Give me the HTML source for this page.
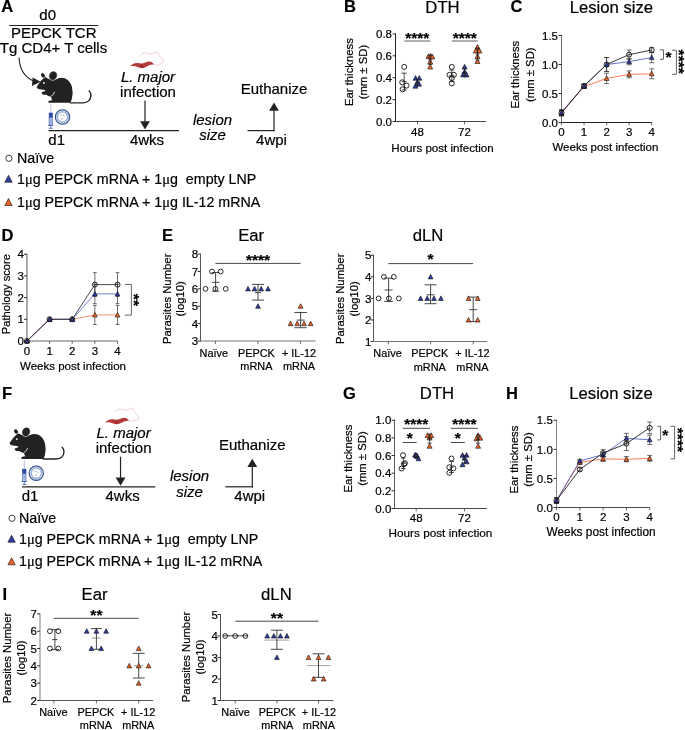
<!DOCTYPE html>
<html lang="en">
<head>
<meta charset="utf-8">
<title>Figure</title>
<style>
html,body{margin:0;padding:0;background:#fff;}
body{width:685px;height:730px;overflow:hidden;}
svg{display:block;font-family:"Liberation Sans",Arial,Helvetica,sans-serif;}
svg text{stroke:#000;stroke-width:0.2px;}
</style>
</head>
<body>
<svg width="685" height="730" viewBox="0 0 685 730">
<rect x="0" y="0" width="685" height="730" fill="#fff"/>
<text x="1.2" y="12" font-size="16.5" font-weight="bold" fill="#000">A</text>
<text x="47.7" y="20" font-size="15" text-anchor="middle" fill="#000">d0</text>
<line x1="9.2" y1="25.5" x2="98.2" y2="25.5" stroke="#222" stroke-width="1"/>
<text x="53.7" y="38" font-size="15" text-anchor="middle" fill="#000">PEPCK TCR</text>
<text x="53.5" y="53.3" font-size="15" text-anchor="middle" fill="#000">Tg CD4+ T cells</text>
<path d="M19 57.5 C19.5 68 24 77 34 81.3" stroke="#222" fill="none" stroke-width="1.1"/>
<path d="M40.6 81.8 L32 85.9 L32.6 77.4 Z" stroke="none" fill="#222" stroke-width="1"/>
<g transform="translate(28 66) scale(0.09927)">
<path d="M88 208 L130 148 L172 112 L210 130 Q260 150 290 130 Q330 112 370 124 Q420 140 442 210 Q458 270 442 330 Q436 356 424 370 L210 370 Q198 366 206 354 Q220 346 246 344 Q232 330 234 312 Q200 306 184 290 Q160 292 146 284 Q130 274 140 264 Q158 256 176 252 Q176 238 140 236 Q110 236 96 226 Q84 218 88 208 Z" stroke="none" fill="#222" stroke-width="1"/>
<path d="M130 90 Q134 66 152 72 Q170 84 174 102 L152 120 Q134 106 130 90 Z" stroke="none" fill="#222" stroke-width="1"/>
<ellipse cx="252" cy="98" rx="41" ry="48" transform="rotate(24 252 99)" fill="#222" stroke="#fff" stroke-width="5"/>
<path d="M268 260 Q262 292 228 307" stroke="#fff" fill="none" stroke-width="8"/>
<circle cx="160" cy="170" r="9" fill="#fff"/>
<path d="M425 371 L555 371 Q628 368 634 300 Q636 270 616 252" stroke="#222" fill="none" stroke-width="14" stroke-linecap="round"/>
</g>
<line x1="50.8" y1="104" x2="50.8" y2="113" stroke="#8f9bd0" stroke-width="0.6"/>
<rect x="49.1" y="113" width="3.4" height="12.3" fill="#b7cdea" stroke="#2f4a9e" stroke-width="0.6"/>
<rect x="49.1" y="113" width="3.4" height="4.6" fill="#2a4aa4"/>
<line x1="50.2" y1="119" x2="51.2" y2="119" stroke="#2f4a9e" stroke-width="0.6"/>
<line x1="50.2" y1="121" x2="51.2" y2="121" stroke="#2f4a9e" stroke-width="0.6"/>
<line x1="50.2" y1="123" x2="51.2" y2="123" stroke="#2f4a9e" stroke-width="0.6"/>
<line x1="48" y1="125.3" x2="53.6" y2="125.3" stroke="#3a55a8" stroke-width="0.7"/>
<line x1="50.8" y1="125.3" x2="50.8" y2="128.3" stroke="#3a55a8" stroke-width="0.8"/>
<line x1="48.9" y1="128.3" x2="52.7" y2="128.3" stroke="#3a55a8" stroke-width="0.8"/>
<circle cx="62.5" cy="117" r="7.2" fill="#c9d6ea" stroke="#2f4c86" stroke-width="1.1"/>
<circle cx="62.5" cy="117" r="5.7" fill="#9db2d3" stroke="none"/>
<circle cx="62.5" cy="117" r="4.4" fill="#fff" stroke="none"/>
<path d="M60.3 115.4 q1.2 -0.8 2 0.2 M63.1 115.2 q1 0.2 1.4 1.4 M60.9 119 q1.4 0.6 2.6 -0.8" stroke="#7d8aa5" fill="none" stroke-width="0.6"/>
<line x1="48.6" y1="130.6" x2="179" y2="130.6" stroke="#222" stroke-width="1.2"/>
<text x="48.3" y="145.2" font-size="15" fill="#000">d1</text>
<text x="147" y="145.2" font-size="15" text-anchor="middle" fill="#000">4wks</text>
<g transform="translate(120 40) scale(0.08759)">
<path d="M392 282 C410 292 430 290 450 276 C470 268 492 276 500 248 C502 224 478 208 460 195 C446 180 444 150 428 140 C404 134 384 152 366 158 C340 166 318 148 290 148 C262 146 246 160 232 178" stroke="#c56b69" fill="none" stroke-width="3.6"/>
<path d="M115 300 C138 270 182 254 230 268 C268 276 300 244 340 245 C366 248 380 266 392 282 C360 274 322 292 290 310 C262 326 230 324 200 309 C170 294 140 296 115 300 Z" stroke="none" fill="#b23a38" stroke-width="1"/>
<circle cx="245" cy="293" r="12" fill="#8c1f22"/>
</g>
<text x="148" y="81.5" font-size="15" text-anchor="middle" font-style="italic" fill="#000">L. major</text>
<text x="148" y="96.8" font-size="15" text-anchor="middle" fill="#000">infection</text>
<line x1="145" y1="100.5" x2="145" y2="122.2" stroke="#222" stroke-width="1.2"/>
<path d="M145 129.5L140.1 121.2L149.9 121.2Z" stroke="none" fill="#222" stroke-width="1"/>
<text x="212.5" y="125" font-size="15" text-anchor="middle" font-style="italic" fill="#000">lesion</text>
<text x="212.5" y="140.3" font-size="15" text-anchor="middle" font-style="italic" fill="#000">size</text>
<line x1="247.5" y1="130.6" x2="274.6" y2="130.6" stroke="#222" stroke-width="1.2"/>
<line x1="274" y1="131.2" x2="274" y2="109.8" stroke="#222" stroke-width="1.2"/>
<path d="M274 102.5L269.1 110.8L278.9 110.8Z" stroke="none" fill="#222" stroke-width="1"/>
<text x="274" y="94" font-size="15" text-anchor="middle" fill="#000">Euthanize</text>
<text x="271.5" y="144.6" font-size="15" text-anchor="middle" fill="#000">4wpi</text>
<circle cx="8.9" cy="158.3" r="3.1" stroke="#111" fill="none" stroke-width="0.8"/>
<text x="17" y="162.9" font-size="14.25" fill="#000">Naïve</text>
<path d="M8.5 175.23L12.2 182.26L4.8 182.26Z" fill="#2e3d9e" stroke="#111" stroke-width="0.6" stroke-linejoin="miter"/>
<text x="17" y="183.7" font-size="14.25" fill="#000" xml:space="preserve">1<tspan font-family="'Liberation Serif','DejaVu Serif',serif" font-size="14.5">μ</tspan>g PEPCK mRNA + 1<tspan font-family="'Liberation Serif','DejaVu Serif',serif" font-size="14.5">μ</tspan>g  empty LNP</text>
<path d="M8.5 198.43L12.2 205.46L4.8 205.46Z" fill="#e8622a" stroke="#111" stroke-width="0.6" stroke-linejoin="miter"/>
<text x="17" y="206.9" font-size="14.25" fill="#000">1<tspan font-family="'Liberation Serif','DejaVu Serif',serif" font-size="14.5">μ</tspan>g PEPCK mRNA + 1<tspan font-family="'Liberation Serif','DejaVu Serif',serif" font-size="14.5">μ</tspan>g IL-12 mRNA</text>
<text x="344" y="12.3" font-size="16.5" font-weight="bold" fill="#000">B</text>
<text x="442.5" y="13" font-size="16.7" text-anchor="middle" fill="#000">DTH</text>
<line x1="395.5" y1="33.5" x2="395.5" y2="122" stroke="#222" stroke-width="1"/>
<line x1="392.6" y1="121.5" x2="395.5" y2="121.5" stroke="#222" stroke-width="0.95"/>
<text x="392" y="125.64" font-size="11.5" text-anchor="end" fill="#000">0.0</text>
<line x1="392.6" y1="99.6" x2="395.5" y2="99.6" stroke="#222" stroke-width="0.95"/>
<text x="392" y="103.74" font-size="11.5" text-anchor="end" fill="#000">0.2</text>
<line x1="392.6" y1="77.7" x2="395.5" y2="77.7" stroke="#222" stroke-width="0.95"/>
<text x="392" y="81.84" font-size="11.5" text-anchor="end" fill="#000">0.4</text>
<line x1="392.6" y1="55.8" x2="395.5" y2="55.8" stroke="#222" stroke-width="0.95"/>
<text x="392" y="59.94" font-size="11.5" text-anchor="end" fill="#000">0.6</text>
<line x1="392.6" y1="33.9" x2="395.5" y2="33.9" stroke="#222" stroke-width="0.95"/>
<text x="392" y="38.04" font-size="11.5" text-anchor="end" fill="#000">0.8</text>
<line x1="395" y1="121.5" x2="486" y2="121.5" stroke="#333" stroke-width="0.9"/>
<line x1="417.5" y1="121.5" x2="417.5" y2="124.4" stroke="#444" stroke-width="0.8"/>
<text x="417.5" y="135.7" font-size="11.5" text-anchor="middle" fill="#000">48</text>
<line x1="464.5" y1="121.5" x2="464.5" y2="124.4" stroke="#444" stroke-width="0.8"/>
<text x="464.5" y="135.7" font-size="11.5" text-anchor="middle" fill="#000">72</text>
<text x="442.5" y="151.6" font-size="11.6" text-anchor="middle" fill="#000">Hours post infection</text>
<text x="352.7" y="72.1" font-size="11.3" text-anchor="middle" transform="rotate(-90 352.7 72.1)" fill="#000">Ear thickness</text>
<text x="366.8" y="72.1" font-size="11.3" text-anchor="middle" transform="rotate(-90 366.8 72.1)" fill="#000">(mm ± SD)</text>
<line x1="404.2" y1="41" x2="430.4" y2="41" stroke="#959595" stroke-width="1.5"/>
<text x="417.3" y="43.2" font-size="15.5" text-anchor="middle" font-weight="bold" fill="#000">****</text>
<line x1="451.8" y1="41" x2="477.8" y2="41" stroke="#959595" stroke-width="1.5"/>
<text x="464.8" y="43.2" font-size="15.5" text-anchor="middle" font-weight="bold" fill="#000">****</text>
<circle cx="404.2" cy="66.9" r="2.5" stroke="#111" fill="none" stroke-width="0.9"/>
<circle cx="402.2" cy="82.3" r="2.5" stroke="#111" fill="none" stroke-width="0.9"/>
<circle cx="406.6" cy="85.6" r="2.5" stroke="#111" fill="none" stroke-width="0.9"/>
<circle cx="402.6" cy="89.3" r="2.5" stroke="#111" fill="none" stroke-width="0.9"/>
<line x1="404.2" y1="73.1" x2="404.2" y2="90" stroke="#222" stroke-width="0.8"/>
<line x1="401.7" y1="73.1" x2="406.7" y2="73.1" stroke="#222" stroke-width="0.8"/>
<line x1="401.7" y1="90" x2="406.7" y2="90" stroke="#222" stroke-width="0.8"/>
<line x1="401.7" y1="81.6" x2="406.7" y2="81.6" stroke="#222" stroke-width="0.8"/>
<path d="M415.6 75.49L418.1 80.24L413.1 80.24Z" fill="#2e3d9e" stroke="#111" stroke-width="0.6" stroke-linejoin="miter"/>
<path d="M419.3 75.49L421.8 80.24L416.8 80.24Z" fill="#2e3d9e" stroke="#111" stroke-width="0.6" stroke-linejoin="miter"/>
<path d="M417.3 79.69L419.8 84.44L414.8 84.44Z" fill="#2e3d9e" stroke="#111" stroke-width="0.6" stroke-linejoin="miter"/>
<path d="M415.4 83.39L417.9 88.14L412.9 88.14Z" fill="#2e3d9e" stroke="#111" stroke-width="0.6" stroke-linejoin="miter"/>
<path d="M419 81.39L421.5 86.14L416.5 86.14Z" fill="#2e3d9e" stroke="#111" stroke-width="0.6" stroke-linejoin="miter"/>
<line x1="417.4" y1="79.5" x2="417.4" y2="85.5" stroke="#222" stroke-width="0.8"/>
<line x1="415.4" y1="79.5" x2="419.4" y2="79.5" stroke="#222" stroke-width="0.8"/>
<line x1="415.4" y1="85.5" x2="419.4" y2="85.5" stroke="#222" stroke-width="0.8"/>
<line x1="415.4" y1="82.5" x2="419.4" y2="82.5" stroke="#222" stroke-width="0.8"/>
<path d="M428.5 53.79L431 58.54L426 58.54Z" fill="#e8622a" stroke="#111" stroke-width="0.6" stroke-linejoin="miter"/>
<path d="M430.5 53.39L433 58.14L428 58.14Z" fill="#e8622a" stroke="#111" stroke-width="0.6" stroke-linejoin="miter"/>
<path d="M432.4 54.19L434.9 58.94L429.9 58.94Z" fill="#e8622a" stroke="#111" stroke-width="0.6" stroke-linejoin="miter"/>
<path d="M430.2 59.09L432.7 63.84L427.7 63.84Z" fill="#e8622a" stroke="#111" stroke-width="0.6" stroke-linejoin="miter"/>
<path d="M430.2 64.29L432.7 69.04L427.7 69.04Z" fill="#e8622a" stroke="#111" stroke-width="0.6" stroke-linejoin="miter"/>
<line x1="430.3" y1="55" x2="430.3" y2="64.5" stroke="#222" stroke-width="0.8"/>
<line x1="428.3" y1="55" x2="432.3" y2="55" stroke="#222" stroke-width="0.8"/>
<line x1="428.3" y1="64.5" x2="432.3" y2="64.5" stroke="#222" stroke-width="0.8"/>
<line x1="428.3" y1="59.7" x2="432.3" y2="59.7" stroke="#222" stroke-width="0.8"/>
<circle cx="451.8" cy="66.9" r="2.5" stroke="#111" fill="none" stroke-width="0.9"/>
<circle cx="449.5" cy="74.8" r="2.5" stroke="#111" fill="none" stroke-width="0.9"/>
<circle cx="453.9" cy="74.8" r="2.5" stroke="#111" fill="none" stroke-width="0.9"/>
<circle cx="451.8" cy="78.1" r="2.5" stroke="#111" fill="none" stroke-width="0.9"/>
<circle cx="451.8" cy="83.4" r="2.5" stroke="#111" fill="none" stroke-width="0.9"/>
<line x1="451.8" y1="70" x2="451.8" y2="81.5" stroke="#222" stroke-width="0.8"/>
<line x1="449.3" y1="70" x2="454.3" y2="70" stroke="#222" stroke-width="0.8"/>
<line x1="449.3" y1="81.5" x2="454.3" y2="81.5" stroke="#222" stroke-width="0.8"/>
<line x1="449.3" y1="75.7" x2="454.3" y2="75.7" stroke="#222" stroke-width="0.8"/>
<path d="M464.6 64.29L467.1 69.04L462.1 69.04Z" fill="#2e3d9e" stroke="#111" stroke-width="0.6" stroke-linejoin="miter"/>
<path d="M464.6 68.89L467.1 73.64L462.1 73.64Z" fill="#2e3d9e" stroke="#111" stroke-width="0.6" stroke-linejoin="miter"/>
<path d="M463.1 72.19L465.6 76.94L460.6 76.94Z" fill="#2e3d9e" stroke="#111" stroke-width="0.6" stroke-linejoin="miter"/>
<path d="M466.6 72.19L469.1 76.94L464.1 76.94Z" fill="#2e3d9e" stroke="#111" stroke-width="0.6" stroke-linejoin="miter"/>
<line x1="464.6" y1="68.5" x2="464.6" y2="76" stroke="#222" stroke-width="0.8"/>
<line x1="462.6" y1="68.5" x2="466.6" y2="68.5" stroke="#222" stroke-width="0.8"/>
<line x1="462.6" y1="76" x2="466.6" y2="76" stroke="#222" stroke-width="0.8"/>
<line x1="462.6" y1="72.3" x2="466.6" y2="72.3" stroke="#222" stroke-width="0.8"/>
<path d="M477.5 44.59L480 49.34L475 49.34Z" fill="#e8622a" stroke="#111" stroke-width="0.6" stroke-linejoin="miter"/>
<path d="M475.8 48.19L478.3 52.94L473.3 52.94Z" fill="#e8622a" stroke="#111" stroke-width="0.6" stroke-linejoin="miter"/>
<path d="M479.4 48.19L481.9 52.94L476.9 52.94Z" fill="#e8622a" stroke="#111" stroke-width="0.6" stroke-linejoin="miter"/>
<path d="M477.5 53.79L480 58.54L475 58.54Z" fill="#e8622a" stroke="#111" stroke-width="0.6" stroke-linejoin="miter"/>
<path d="M477.5 58.79L480 63.54L475 63.54Z" fill="#e8622a" stroke="#111" stroke-width="0.6" stroke-linejoin="miter"/>
<line x1="477.5" y1="48" x2="477.5" y2="60" stroke="#222" stroke-width="0.8"/>
<line x1="475.5" y1="48" x2="479.5" y2="48" stroke="#222" stroke-width="0.8"/>
<line x1="475.5" y1="60" x2="479.5" y2="60" stroke="#222" stroke-width="0.8"/>
<line x1="475.5" y1="54" x2="479.5" y2="54" stroke="#222" stroke-width="0.8"/>
<text x="510.6" y="12.3" font-size="16.5" font-weight="bold" fill="#000">C</text>
<text x="611.4" y="13" font-size="16.7" text-anchor="middle" fill="#000">Lesion size</text>
<line x1="561.5" y1="34.9" x2="561.5" y2="123" stroke="#444" stroke-width="0.8"/>
<line x1="558.6" y1="122.5" x2="561.5" y2="122.5" stroke="#222" stroke-width="0.95"/>
<text x="558" y="126.64" font-size="11.5" text-anchor="end" fill="#000">0.0</text>
<line x1="558.6" y1="93.5" x2="561.5" y2="93.5" stroke="#222" stroke-width="0.95"/>
<text x="558" y="97.64" font-size="11.5" text-anchor="end" fill="#000">0.5</text>
<line x1="558.6" y1="64.5" x2="561.5" y2="64.5" stroke="#222" stroke-width="0.95"/>
<text x="558" y="68.64" font-size="11.5" text-anchor="end" fill="#000">1.0</text>
<line x1="558.6" y1="35.5" x2="561.5" y2="35.5" stroke="#222" stroke-width="0.95"/>
<text x="558" y="39.64" font-size="11.5" text-anchor="end" fill="#000">1.5</text>
<line x1="561" y1="122.5" x2="651.7" y2="122.5" stroke="#222" stroke-width="1"/>
<line x1="561.5" y1="122.5" x2="561.5" y2="125.4" stroke="#444" stroke-width="0.8"/>
<text x="561.5" y="136" font-size="11.5" text-anchor="middle" fill="#000">0</text>
<line x1="584.05" y1="122.5" x2="584.05" y2="125.4" stroke="#444" stroke-width="0.8"/>
<text x="584.05" y="136" font-size="11.5" text-anchor="middle" fill="#000">1</text>
<line x1="606.6" y1="122.5" x2="606.6" y2="125.4" stroke="#444" stroke-width="0.8"/>
<text x="606.6" y="136" font-size="11.5" text-anchor="middle" fill="#000">2</text>
<line x1="629.15" y1="122.5" x2="629.15" y2="125.4" stroke="#444" stroke-width="0.8"/>
<text x="629.15" y="136" font-size="11.5" text-anchor="middle" fill="#000">3</text>
<line x1="651.7" y1="122.5" x2="651.7" y2="125.4" stroke="#444" stroke-width="0.8"/>
<text x="651.7" y="136" font-size="11.5" text-anchor="middle" fill="#000">4</text>
<text x="605.4" y="151.2" font-size="11.5" text-anchor="middle" fill="#000">Weeks post infection</text>
<text x="519.1" y="74.7" font-size="11.3" text-anchor="middle" transform="rotate(-90 519.1 74.7)" fill="#000">Ear thickness</text>
<text x="533.9" y="74.7" font-size="11.3" text-anchor="middle" transform="rotate(-90 533.9 74.7)" fill="#000">(mm ± SD)</text>
<line x1="561.5" y1="109.74" x2="561.5" y2="115.54" stroke="#333" stroke-width="0.7"/>
<line x1="559" y1="109.74" x2="564" y2="109.74" stroke="#333" stroke-width="0.7"/>
<line x1="559" y1="115.54" x2="564" y2="115.54" stroke="#333" stroke-width="0.7"/>
<line x1="584.05" y1="84.22" x2="584.05" y2="87.7" stroke="#333" stroke-width="0.7"/>
<line x1="581.55" y1="84.22" x2="586.55" y2="84.22" stroke="#333" stroke-width="0.7"/>
<line x1="581.55" y1="87.7" x2="586.55" y2="87.7" stroke="#333" stroke-width="0.7"/>
<line x1="606.6" y1="57.54" x2="606.6" y2="71.46" stroke="#333" stroke-width="0.7"/>
<line x1="604.1" y1="57.54" x2="609.1" y2="57.54" stroke="#333" stroke-width="0.7"/>
<line x1="604.1" y1="71.46" x2="609.1" y2="71.46" stroke="#333" stroke-width="0.7"/>
<line x1="629.15" y1="50" x2="629.15" y2="59.28" stroke="#333" stroke-width="0.7"/>
<line x1="626.65" y1="50" x2="631.65" y2="50" stroke="#333" stroke-width="0.7"/>
<line x1="626.65" y1="59.28" x2="631.65" y2="59.28" stroke="#333" stroke-width="0.7"/>
<line x1="651.7" y1="47.39" x2="651.7" y2="52.61" stroke="#333" stroke-width="0.7"/>
<line x1="649.2" y1="47.39" x2="654.2" y2="47.39" stroke="#333" stroke-width="0.7"/>
<line x1="649.2" y1="52.61" x2="654.2" y2="52.61" stroke="#333" stroke-width="0.7"/>
<line x1="561.5" y1="109.74" x2="561.5" y2="115.54" stroke="#333" stroke-width="0.7"/>
<line x1="559" y1="109.74" x2="564" y2="109.74" stroke="#333" stroke-width="0.7"/>
<line x1="559" y1="115.54" x2="564" y2="115.54" stroke="#333" stroke-width="0.7"/>
<line x1="584.05" y1="84.22" x2="584.05" y2="87.7" stroke="#333" stroke-width="0.7"/>
<line x1="581.55" y1="84.22" x2="586.55" y2="84.22" stroke="#333" stroke-width="0.7"/>
<line x1="581.55" y1="87.7" x2="586.55" y2="87.7" stroke="#333" stroke-width="0.7"/>
<line x1="606.6" y1="57.54" x2="606.6" y2="71.46" stroke="#333" stroke-width="0.7"/>
<line x1="604.1" y1="57.54" x2="609.1" y2="57.54" stroke="#333" stroke-width="0.7"/>
<line x1="604.1" y1="71.46" x2="609.1" y2="71.46" stroke="#333" stroke-width="0.7"/>
<line x1="629.15" y1="58.41" x2="629.15" y2="64.79" stroke="#333" stroke-width="0.7"/>
<line x1="626.65" y1="58.41" x2="631.65" y2="58.41" stroke="#333" stroke-width="0.7"/>
<line x1="626.65" y1="64.79" x2="631.65" y2="64.79" stroke="#333" stroke-width="0.7"/>
<line x1="651.7" y1="52.32" x2="651.7" y2="62.76" stroke="#333" stroke-width="0.7"/>
<line x1="649.2" y1="52.32" x2="654.2" y2="52.32" stroke="#333" stroke-width="0.7"/>
<line x1="649.2" y1="62.76" x2="654.2" y2="62.76" stroke="#333" stroke-width="0.7"/>
<line x1="561.5" y1="110.32" x2="561.5" y2="116.12" stroke="#333" stroke-width="0.7"/>
<line x1="559" y1="110.32" x2="564" y2="110.32" stroke="#333" stroke-width="0.7"/>
<line x1="559" y1="116.12" x2="564" y2="116.12" stroke="#333" stroke-width="0.7"/>
<line x1="584.05" y1="84.8" x2="584.05" y2="88.28" stroke="#333" stroke-width="0.7"/>
<line x1="581.55" y1="84.8" x2="586.55" y2="84.8" stroke="#333" stroke-width="0.7"/>
<line x1="581.55" y1="88.28" x2="586.55" y2="88.28" stroke="#333" stroke-width="0.7"/>
<line x1="606.6" y1="73.2" x2="606.6" y2="83.64" stroke="#333" stroke-width="0.7"/>
<line x1="604.1" y1="73.2" x2="609.1" y2="73.2" stroke="#333" stroke-width="0.7"/>
<line x1="604.1" y1="83.64" x2="609.1" y2="83.64" stroke="#333" stroke-width="0.7"/>
<line x1="629.15" y1="70.88" x2="629.15" y2="77.84" stroke="#333" stroke-width="0.7"/>
<line x1="626.65" y1="70.88" x2="631.65" y2="70.88" stroke="#333" stroke-width="0.7"/>
<line x1="626.65" y1="77.84" x2="631.65" y2="77.84" stroke="#333" stroke-width="0.7"/>
<line x1="651.7" y1="68.85" x2="651.7" y2="78.71" stroke="#333" stroke-width="0.7"/>
<line x1="649.2" y1="68.85" x2="654.2" y2="68.85" stroke="#333" stroke-width="0.7"/>
<line x1="649.2" y1="78.71" x2="654.2" y2="78.71" stroke="#333" stroke-width="0.7"/>
<polyline points="561.5,113.22 584.05,86.54 606.6,78.42 629.15,74.36 651.7,73.78" fill="none" stroke="#f0734a" stroke-width="0.9"/>
<polyline points="561.5,112.64 584.05,85.96 606.6,64.5 629.15,61.6 651.7,57.54" fill="none" stroke="#5563c4" stroke-width="0.9"/>
<polyline points="561.5,112.64 584.05,85.96 606.6,64.5 629.15,54.64 651.7,50" fill="none" stroke="#222" stroke-width="0.9"/>
<path d="M561.5 110.71L563.9 115.27L559.1 115.27Z" fill="#e8622a" stroke="#111" stroke-width="0.6" stroke-linejoin="miter"/>
<path d="M584.05 84.03L586.45 88.59L581.65 88.59Z" fill="#e8622a" stroke="#111" stroke-width="0.6" stroke-linejoin="miter"/>
<path d="M606.6 75.91L609 80.47L604.2 80.47Z" fill="#e8622a" stroke="#111" stroke-width="0.6" stroke-linejoin="miter"/>
<path d="M629.15 71.85L631.55 76.41L626.75 76.41Z" fill="#e8622a" stroke="#111" stroke-width="0.6" stroke-linejoin="miter"/>
<path d="M651.7 71.27L654.1 75.83L649.3 75.83Z" fill="#e8622a" stroke="#111" stroke-width="0.6" stroke-linejoin="miter"/>
<path d="M561.5 110.13L563.9 114.69L559.1 114.69Z" fill="#2e3d9e" stroke="#111" stroke-width="0.6" stroke-linejoin="miter"/>
<path d="M584.05 83.45L586.45 88.01L581.65 88.01Z" fill="#2e3d9e" stroke="#111" stroke-width="0.6" stroke-linejoin="miter"/>
<path d="M606.6 61.99L609 66.55L604.2 66.55Z" fill="#2e3d9e" stroke="#111" stroke-width="0.6" stroke-linejoin="miter"/>
<path d="M629.15 59.09L631.55 63.65L626.75 63.65Z" fill="#2e3d9e" stroke="#111" stroke-width="0.6" stroke-linejoin="miter"/>
<path d="M651.7 55.03L654.1 59.59L649.3 59.59Z" fill="#2e3d9e" stroke="#111" stroke-width="0.6" stroke-linejoin="miter"/>
<circle cx="561.5" cy="112.64" r="2.5" stroke="#111" fill="none" stroke-width="0.9"/>
<circle cx="584.05" cy="85.96" r="2.5" stroke="#111" fill="none" stroke-width="0.9"/>
<circle cx="606.6" cy="64.5" r="2.5" stroke="#111" fill="none" stroke-width="0.9"/>
<circle cx="629.15" cy="54.64" r="2.5" stroke="#111" fill="none" stroke-width="0.9"/>
<circle cx="651.7" cy="50" r="2.5" stroke="#111" fill="none" stroke-width="0.9"/>
<path d="M659.8 49.8L663.5 49.8L663.5 59.3L659.8 59.3" stroke="#555" fill="none" stroke-width="0.9"/>
<text x="668.5" y="61.51" font-size="15.5" text-anchor="middle" font-weight="bold" fill="#000">*</text>
<path d="M672 50.2L676.4 50.2L676.4 74.3L672 74.3" stroke="#555" fill="none" stroke-width="0.9"/>
<text x="674.1" y="61.7" font-size="15.5" text-anchor="middle" font-weight="bold" transform="rotate(90 674.1 61.7)" fill="#000">****</text>
<text x="1.5" y="240.5" font-size="16.5" font-weight="bold" fill="#000">D</text>
<line x1="26.95" y1="253.7" x2="26.95" y2="341.5" stroke="#666" stroke-width="1.1"/>
<line x1="24.05" y1="341" x2="26.95" y2="341" stroke="#222" stroke-width="0.95"/>
<text x="23.85" y="345.14" font-size="11.5" text-anchor="end" fill="#000">0</text>
<line x1="24.05" y1="319.3" x2="26.95" y2="319.3" stroke="#222" stroke-width="0.95"/>
<text x="23.85" y="323.44" font-size="11.5" text-anchor="end" fill="#000">1</text>
<line x1="24.05" y1="297.6" x2="26.95" y2="297.6" stroke="#222" stroke-width="0.95"/>
<text x="23.85" y="301.74" font-size="11.5" text-anchor="end" fill="#000">2</text>
<line x1="24.05" y1="275.9" x2="26.95" y2="275.9" stroke="#222" stroke-width="0.95"/>
<text x="23.85" y="280.04" font-size="11.5" text-anchor="end" fill="#000">3</text>
<line x1="24.05" y1="254.2" x2="26.95" y2="254.2" stroke="#222" stroke-width="0.95"/>
<text x="23.85" y="258.34" font-size="11.5" text-anchor="end" fill="#000">4</text>
<line x1="26.45" y1="341" x2="117.51" y2="341" stroke="#666" stroke-width="1.1"/>
<line x1="26.95" y1="341" x2="26.95" y2="343.9" stroke="#444" stroke-width="0.8"/>
<text x="26.95" y="355.2" font-size="11.5" text-anchor="middle" fill="#000">0</text>
<line x1="49.59" y1="341" x2="49.59" y2="343.9" stroke="#444" stroke-width="0.8"/>
<text x="49.59" y="355.2" font-size="11.5" text-anchor="middle" fill="#000">1</text>
<line x1="72.23" y1="341" x2="72.23" y2="343.9" stroke="#444" stroke-width="0.8"/>
<text x="72.23" y="355.2" font-size="11.5" text-anchor="middle" fill="#000">2</text>
<line x1="94.87" y1="341" x2="94.87" y2="343.9" stroke="#444" stroke-width="0.8"/>
<text x="94.87" y="355.2" font-size="11.5" text-anchor="middle" fill="#000">3</text>
<line x1="117.51" y1="341" x2="117.51" y2="343.9" stroke="#444" stroke-width="0.8"/>
<text x="117.51" y="355.2" font-size="11.5" text-anchor="middle" fill="#000">4</text>
<text x="73" y="369.8" font-size="11.5" text-anchor="middle" fill="#000">Weeks post infection</text>
<text x="10.4" y="294.1" font-size="11.2" text-anchor="middle" transform="rotate(-90 10.4 294.1)" fill="#000">Pathology score</text>
<line x1="94.87" y1="272.64" x2="94.87" y2="296.51" stroke="#333" stroke-width="0.7"/>
<line x1="92.97" y1="272.64" x2="96.77" y2="272.64" stroke="#333" stroke-width="0.7"/>
<line x1="92.97" y1="296.51" x2="96.77" y2="296.51" stroke="#333" stroke-width="0.7"/>
<line x1="117.51" y1="272.64" x2="117.51" y2="296.51" stroke="#333" stroke-width="0.7"/>
<line x1="115.61" y1="272.64" x2="119.41" y2="272.64" stroke="#333" stroke-width="0.7"/>
<line x1="115.61" y1="296.51" x2="119.41" y2="296.51" stroke="#333" stroke-width="0.7"/>
<line x1="94.87" y1="284.15" x2="94.87" y2="303.68" stroke="#333" stroke-width="0.7"/>
<line x1="92.97" y1="284.15" x2="96.77" y2="284.15" stroke="#333" stroke-width="0.7"/>
<line x1="92.97" y1="303.68" x2="96.77" y2="303.68" stroke="#333" stroke-width="0.7"/>
<line x1="117.51" y1="284.15" x2="117.51" y2="303.68" stroke="#333" stroke-width="0.7"/>
<line x1="115.61" y1="284.15" x2="119.41" y2="284.15" stroke="#333" stroke-width="0.7"/>
<line x1="115.61" y1="303.68" x2="119.41" y2="303.68" stroke="#333" stroke-width="0.7"/>
<line x1="94.87" y1="305.41" x2="94.87" y2="324.51" stroke="#333" stroke-width="0.7"/>
<line x1="92.97" y1="305.41" x2="96.77" y2="305.41" stroke="#333" stroke-width="0.7"/>
<line x1="92.97" y1="324.51" x2="96.77" y2="324.51" stroke="#333" stroke-width="0.7"/>
<line x1="117.51" y1="305.41" x2="117.51" y2="324.51" stroke="#333" stroke-width="0.7"/>
<line x1="115.61" y1="305.41" x2="119.41" y2="305.41" stroke="#333" stroke-width="0.7"/>
<line x1="115.61" y1="324.51" x2="119.41" y2="324.51" stroke="#333" stroke-width="0.7"/>
<polyline points="26.95,341 49.59,319.3 72.23,319.3 94.87,314.96 117.51,314.96" fill="none" stroke="#f0734a" stroke-width="0.8"/>
<polyline points="26.95,341 49.59,319.3 72.23,319.3 94.87,293.91 117.51,293.91" fill="none" stroke="#5563c4" stroke-width="0.8"/>
<polyline points="26.95,341 49.59,319.3 72.23,319.3 94.87,284.58 117.51,284.58" fill="none" stroke="#222" stroke-width="0.8"/>
<path d="M26.95 338.49L29.35 343.05L24.55 343.05Z" fill="#e8622a" stroke="#111" stroke-width="0.6" stroke-linejoin="miter"/>
<path d="M49.59 316.79L51.99 321.35L47.19 321.35Z" fill="#e8622a" stroke="#111" stroke-width="0.6" stroke-linejoin="miter"/>
<path d="M72.23 316.79L74.63 321.35L69.83 321.35Z" fill="#e8622a" stroke="#111" stroke-width="0.6" stroke-linejoin="miter"/>
<path d="M94.87 312.45L97.27 317.01L92.47 317.01Z" fill="#e8622a" stroke="#111" stroke-width="0.6" stroke-linejoin="miter"/>
<path d="M117.51 312.45L119.91 317.01L115.11 317.01Z" fill="#e8622a" stroke="#111" stroke-width="0.6" stroke-linejoin="miter"/>
<path d="M26.95 338.49L29.35 343.05L24.55 343.05Z" fill="#2e3d9e" stroke="#111" stroke-width="0.6" stroke-linejoin="miter"/>
<path d="M49.59 316.79L51.99 321.35L47.19 321.35Z" fill="#2e3d9e" stroke="#111" stroke-width="0.6" stroke-linejoin="miter"/>
<path d="M72.23 316.79L74.63 321.35L69.83 321.35Z" fill="#2e3d9e" stroke="#111" stroke-width="0.6" stroke-linejoin="miter"/>
<path d="M94.87 291.4L97.27 295.96L92.47 295.96Z" fill="#2e3d9e" stroke="#111" stroke-width="0.6" stroke-linejoin="miter"/>
<path d="M117.51 291.4L119.91 295.96L115.11 295.96Z" fill="#2e3d9e" stroke="#111" stroke-width="0.6" stroke-linejoin="miter"/>
<circle cx="26.95" cy="341" r="2.5" stroke="#111" fill="none" stroke-width="0.9"/>
<circle cx="49.59" cy="319.3" r="2.5" stroke="#111" fill="none" stroke-width="0.9"/>
<circle cx="72.23" cy="319.3" r="2.5" stroke="#111" fill="none" stroke-width="0.9"/>
<circle cx="94.87" cy="284.58" r="2.5" stroke="#111" fill="none" stroke-width="0.9"/>
<circle cx="117.51" cy="284.58" r="2.5" stroke="#111" fill="none" stroke-width="0.9"/>
<path d="M124.8 284.4L131.4 284.4L131.4 315.1L124.8 315.1" stroke="#555" fill="none" stroke-width="0.9"/>
<text x="129.4" y="299.9" font-size="15.5" text-anchor="middle" font-weight="bold" transform="rotate(90 129.4 299.9)" fill="#000">**</text>
<text x="162" y="240.5" font-size="16.5" font-weight="bold" fill="#000">E</text>
<text x="251.2" y="241" font-size="16.7" text-anchor="middle" fill="#000">Ear</text>
<line x1="200.5" y1="253.6" x2="200.5" y2="341.5" stroke="#444" stroke-width="0.9"/>
<line x1="197.6" y1="341" x2="200.5" y2="341" stroke="#222" stroke-width="0.95"/>
<text x="198.2" y="345.14" font-size="11.5" text-anchor="end" fill="#000">3</text>
<line x1="197.6" y1="323.62" x2="200.5" y2="323.62" stroke="#222" stroke-width="0.95"/>
<text x="198.2" y="327.76" font-size="11.5" text-anchor="end" fill="#000">4</text>
<line x1="197.6" y1="306.24" x2="200.5" y2="306.24" stroke="#222" stroke-width="0.95"/>
<text x="198.2" y="310.38" font-size="11.5" text-anchor="end" fill="#000">5</text>
<line x1="197.6" y1="288.86" x2="200.5" y2="288.86" stroke="#222" stroke-width="0.95"/>
<text x="198.2" y="293" font-size="11.5" text-anchor="end" fill="#000">6</text>
<line x1="197.6" y1="271.48" x2="200.5" y2="271.48" stroke="#222" stroke-width="0.95"/>
<text x="198.2" y="275.62" font-size="11.5" text-anchor="end" fill="#000">7</text>
<line x1="197.6" y1="254.1" x2="200.5" y2="254.1" stroke="#222" stroke-width="0.95"/>
<text x="198.2" y="258.24" font-size="11.5" text-anchor="end" fill="#000">8</text>
<line x1="200" y1="341" x2="315.5" y2="341" stroke="#777" stroke-width="1.2"/>
<line x1="215.4" y1="341" x2="215.4" y2="343.9" stroke="#444" stroke-width="0.8"/>
<text x="213.8" y="356.6" font-size="10.9" text-anchor="middle" fill="#000">Naïve</text>
<line x1="258" y1="341" x2="258" y2="343.9" stroke="#444" stroke-width="0.8"/>
<text x="256.4" y="356.6" font-size="10.9" text-anchor="middle" fill="#000">PEPCK</text>
<text x="256.4" y="369.8" font-size="10.9" text-anchor="middle" fill="#000">mRNA</text>
<line x1="300.6" y1="341" x2="300.6" y2="343.9" stroke="#444" stroke-width="0.8"/>
<text x="299" y="356.6" font-size="10.9" text-anchor="middle" fill="#000">+ IL-12</text>
<text x="299" y="369.8" font-size="10.9" text-anchor="middle" fill="#000">mRNA</text>
<text x="171" y="298.8" font-size="11.3" text-anchor="middle" transform="rotate(-90 171 298.8)" fill="#000">Parasites Number</text>
<text x="184.4" y="298.8" font-size="11.3" text-anchor="middle" transform="rotate(-90 184.4 298.8)" fill="#000">(log10)</text>
<line x1="215.4" y1="263.4" x2="300.6" y2="263.4" stroke="#333" stroke-width="0.9"/>
<text x="258" y="265.3" font-size="15.5" text-anchor="middle" font-weight="bold" fill="#000">****</text>
<line x1="211.85" y1="282.3" x2="219.35" y2="282.3" stroke="#333" stroke-width="0.9"/>
<line x1="215.6" y1="272.5" x2="215.6" y2="291.2" stroke="#333" stroke-width="0.9"/>
<line x1="211.85" y1="272.5" x2="219.35" y2="272.5" stroke="#333" stroke-width="0.9"/>
<line x1="211.85" y1="291.2" x2="219.35" y2="291.2" stroke="#333" stroke-width="0.9"/>
<circle cx="212" cy="271.48" r="2.4" stroke="#111" fill="none" stroke-width="0.9"/>
<circle cx="220.7" cy="271.48" r="2.4" stroke="#111" fill="none" stroke-width="0.9"/>
<circle cx="205.5" cy="288.86" r="2.4" stroke="#111" fill="none" stroke-width="0.9"/>
<circle cx="215.4" cy="288.86" r="2.4" stroke="#111" fill="none" stroke-width="0.9"/>
<circle cx="225.7" cy="288.86" r="2.4" stroke="#111" fill="none" stroke-width="0.9"/>
<line x1="255" y1="292.6" x2="261" y2="292.6" stroke="#333" stroke-width="0.9"/>
<line x1="258" y1="284.4" x2="258" y2="300.1" stroke="#333" stroke-width="0.9"/>
<line x1="251.85" y1="284.4" x2="264.15" y2="284.4" stroke="#333" stroke-width="0.9"/>
<line x1="251.85" y1="300.1" x2="264.15" y2="300.1" stroke="#333" stroke-width="0.9"/>
<path d="M248 286.35L250.4 290.91L245.6 290.91Z" fill="#2e3d9e" stroke="#111" stroke-width="0.6" stroke-linejoin="miter"/>
<path d="M254.6 286.35L257 290.91L252.2 290.91Z" fill="#2e3d9e" stroke="#111" stroke-width="0.6" stroke-linejoin="miter"/>
<path d="M261.2 286.35L263.6 290.91L258.8 290.91Z" fill="#2e3d9e" stroke="#111" stroke-width="0.6" stroke-linejoin="miter"/>
<path d="M268 286.35L270.4 290.91L265.6 290.91Z" fill="#2e3d9e" stroke="#111" stroke-width="0.6" stroke-linejoin="miter"/>
<path d="M258 303.73L260.4 308.29L255.6 308.29Z" fill="#2e3d9e" stroke="#111" stroke-width="0.6" stroke-linejoin="miter"/>
<line x1="296.6" y1="320.1" x2="304.6" y2="320.1" stroke="#333" stroke-width="0.9"/>
<line x1="300.6" y1="312.5" x2="300.6" y2="327.7" stroke="#333" stroke-width="0.9"/>
<line x1="294.35" y1="312.5" x2="306.85" y2="312.5" stroke="#333" stroke-width="0.9"/>
<line x1="294.35" y1="327.7" x2="306.85" y2="327.7" stroke="#333" stroke-width="0.9"/>
<path d="M300.6 303.73L303 308.29L298.2 308.29Z" fill="#e8622a" stroke="#111" stroke-width="0.6" stroke-linejoin="miter"/>
<path d="M290.6 321.11L293 325.67L288.2 325.67Z" fill="#e8622a" stroke="#111" stroke-width="0.6" stroke-linejoin="miter"/>
<path d="M297.2 321.11L299.6 325.67L294.8 325.67Z" fill="#e8622a" stroke="#111" stroke-width="0.6" stroke-linejoin="miter"/>
<path d="M304 321.11L306.4 325.67L301.6 325.67Z" fill="#e8622a" stroke="#111" stroke-width="0.6" stroke-linejoin="miter"/>
<path d="M310.6 321.11L313 325.67L308.2 325.67Z" fill="#e8622a" stroke="#111" stroke-width="0.6" stroke-linejoin="miter"/>
<text x="428" y="241" font-size="16.7" text-anchor="middle" fill="#000">dLN</text>
<line x1="373.5" y1="254.8" x2="373.5" y2="342" stroke="#444" stroke-width="0.9"/>
<line x1="370.6" y1="341.5" x2="373.5" y2="341.5" stroke="#222" stroke-width="0.95"/>
<text x="371.4" y="345.64" font-size="11.5" text-anchor="end" fill="#000">1</text>
<line x1="370.6" y1="319.95" x2="373.5" y2="319.95" stroke="#222" stroke-width="0.95"/>
<text x="371.4" y="324.09" font-size="11.5" text-anchor="end" fill="#000">2</text>
<line x1="370.6" y1="298.4" x2="373.5" y2="298.4" stroke="#222" stroke-width="0.95"/>
<text x="371.4" y="302.54" font-size="11.5" text-anchor="end" fill="#000">3</text>
<line x1="370.6" y1="276.85" x2="373.5" y2="276.85" stroke="#222" stroke-width="0.95"/>
<text x="371.4" y="280.99" font-size="11.5" text-anchor="end" fill="#000">4</text>
<line x1="370.6" y1="255.3" x2="373.5" y2="255.3" stroke="#222" stroke-width="0.95"/>
<text x="371.4" y="259.44" font-size="11.5" text-anchor="end" fill="#000">5</text>
<line x1="373" y1="341.5" x2="487.1" y2="341.5" stroke="#666" stroke-width="0.9"/>
<line x1="388.3" y1="341.5" x2="388.3" y2="344.4" stroke="#444" stroke-width="0.8"/>
<text x="387.5" y="357.3" font-size="10.9" text-anchor="middle" fill="#000">Naïve</text>
<line x1="430.6" y1="341.5" x2="430.6" y2="344.4" stroke="#444" stroke-width="0.8"/>
<text x="429.8" y="357.3" font-size="10.9" text-anchor="middle" fill="#000">PEPCK</text>
<text x="429.8" y="370.5" font-size="10.9" text-anchor="middle" fill="#000">mRNA</text>
<line x1="473.2" y1="341.5" x2="473.2" y2="344.4" stroke="#444" stroke-width="0.8"/>
<text x="472.4" y="357.3" font-size="10.9" text-anchor="middle" fill="#000">+ IL-12</text>
<text x="472.4" y="370.5" font-size="10.9" text-anchor="middle" fill="#000">mRNA</text>
<text x="344.2" y="298.8" font-size="11.3" text-anchor="middle" transform="rotate(-90 344.2 298.8)" fill="#000">Parasites Number</text>
<text x="357.9" y="298.8" font-size="11.3" text-anchor="middle" transform="rotate(-90 357.9 298.8)" fill="#000">(log10)</text>
<line x1="388.3" y1="263.6" x2="473.2" y2="263.6" stroke="#333" stroke-width="0.9"/>
<text x="430.6" y="264.4" font-size="15.5" text-anchor="middle" font-weight="bold" fill="#000">*</text>
<line x1="384.6" y1="290" x2="392.6" y2="290" stroke="#333" stroke-width="0.9"/>
<line x1="388.6" y1="278.2" x2="388.6" y2="301.4" stroke="#333" stroke-width="0.9"/>
<line x1="384.1" y1="278.2" x2="393.1" y2="278.2" stroke="#333" stroke-width="0.9"/>
<line x1="384.1" y1="301.4" x2="393.1" y2="301.4" stroke="#333" stroke-width="0.9"/>
<circle cx="383.9" cy="276.85" r="2.4" stroke="#111" fill="none" stroke-width="0.9"/>
<circle cx="393.8" cy="276.85" r="2.4" stroke="#111" fill="none" stroke-width="0.9"/>
<circle cx="378.6" cy="298.4" r="2.4" stroke="#111" fill="none" stroke-width="0.9"/>
<circle cx="388.9" cy="298.4" r="2.4" stroke="#111" fill="none" stroke-width="0.9"/>
<circle cx="398.8" cy="298.4" r="2.4" stroke="#111" fill="none" stroke-width="0.9"/>
<line x1="426.6" y1="294.8" x2="434.6" y2="294.8" stroke="#333" stroke-width="0.9"/>
<line x1="430.6" y1="284.8" x2="430.6" y2="303.7" stroke="#333" stroke-width="0.9"/>
<line x1="424.6" y1="284.8" x2="436.6" y2="284.8" stroke="#333" stroke-width="0.9"/>
<line x1="424.6" y1="303.7" x2="436.6" y2="303.7" stroke="#333" stroke-width="0.9"/>
<path d="M430.6 274.34L433 278.9L428.2 278.9Z" fill="#2e3d9e" stroke="#111" stroke-width="0.6" stroke-linejoin="miter"/>
<path d="M420.6 295.89L423 300.45L418.2 300.45Z" fill="#2e3d9e" stroke="#111" stroke-width="0.6" stroke-linejoin="miter"/>
<path d="M427.2 295.89L429.6 300.45L424.8 300.45Z" fill="#2e3d9e" stroke="#111" stroke-width="0.6" stroke-linejoin="miter"/>
<path d="M434 295.89L436.4 300.45L431.6 300.45Z" fill="#2e3d9e" stroke="#111" stroke-width="0.6" stroke-linejoin="miter"/>
<path d="M440.9 295.89L443.3 300.45L438.5 300.45Z" fill="#2e3d9e" stroke="#111" stroke-width="0.6" stroke-linejoin="miter"/>
<line x1="469.2" y1="309.7" x2="477.2" y2="309.7" stroke="#333" stroke-width="0.9"/>
<line x1="473.2" y1="297.1" x2="473.2" y2="321.6" stroke="#333" stroke-width="0.9"/>
<line x1="467.7" y1="297.1" x2="478.7" y2="297.1" stroke="#333" stroke-width="0.9"/>
<line x1="467.7" y1="321.6" x2="478.7" y2="321.6" stroke="#333" stroke-width="0.9"/>
<path d="M468.5 295.89L470.9 300.45L466.1 300.45Z" fill="#e8622a" stroke="#111" stroke-width="0.6" stroke-linejoin="miter"/>
<path d="M477.7 295.89L480.1 300.45L475.3 300.45Z" fill="#e8622a" stroke="#111" stroke-width="0.6" stroke-linejoin="miter"/>
<path d="M468.5 317.44L470.9 322L466.1 322Z" fill="#e8622a" stroke="#111" stroke-width="0.6" stroke-linejoin="miter"/>
<path d="M477.7 317.44L480.1 322L475.3 322Z" fill="#e8622a" stroke="#111" stroke-width="0.6" stroke-linejoin="miter"/>
<text x="2" y="399" font-size="16.5" font-weight="bold" fill="#000">F</text>
<g transform="translate(1.03 422.2) scale(0.09927)">
<path d="M88 208 L130 148 L172 112 L210 130 Q260 150 290 130 Q330 112 370 124 Q420 140 442 210 Q458 270 442 330 Q436 356 424 370 L210 370 Q198 366 206 354 Q220 346 246 344 Q232 330 234 312 Q200 306 184 290 Q160 292 146 284 Q130 274 140 264 Q158 256 176 252 Q176 238 140 236 Q110 236 96 226 Q84 218 88 208 Z" stroke="none" fill="#222" stroke-width="1"/>
<path d="M130 90 Q134 66 152 72 Q170 84 174 102 L152 120 Q134 106 130 90 Z" stroke="none" fill="#222" stroke-width="1"/>
<ellipse cx="252" cy="98" rx="41" ry="48" transform="rotate(24 252 99)" fill="#222" stroke="#fff" stroke-width="5"/>
<path d="M268 260 Q262 292 228 307" stroke="#fff" fill="none" stroke-width="8"/>
<circle cx="160" cy="170" r="9" fill="#fff"/>
<path d="M425 371 L555 371 Q628 368 634 300 Q636 270 616 252" stroke="#222" fill="none" stroke-width="14" stroke-linecap="round"/>
</g>
<line x1="24.32" y1="460.2" x2="24.32" y2="469.2" stroke="#8f9bd0" stroke-width="0.6"/>
<rect x="22.62" y="469.2" width="3.4" height="12.3" fill="#b7cdea" stroke="#2f4a9e" stroke-width="0.6"/>
<rect x="22.62" y="469.2" width="3.4" height="4.6" fill="#2a4aa4"/>
<line x1="23.72" y1="475.2" x2="24.72" y2="475.2" stroke="#2f4a9e" stroke-width="0.6"/>
<line x1="23.72" y1="477.2" x2="24.72" y2="477.2" stroke="#2f4a9e" stroke-width="0.6"/>
<line x1="23.72" y1="479.2" x2="24.72" y2="479.2" stroke="#2f4a9e" stroke-width="0.6"/>
<line x1="21.52" y1="481.5" x2="27.12" y2="481.5" stroke="#3a55a8" stroke-width="0.7"/>
<line x1="24.32" y1="481.5" x2="24.32" y2="484.5" stroke="#3a55a8" stroke-width="0.8"/>
<line x1="22.42" y1="484.5" x2="26.22" y2="484.5" stroke="#3a55a8" stroke-width="0.8"/>
<circle cx="36.27" cy="473.2" r="7.2" fill="#c9d6ea" stroke="#2f4c86" stroke-width="1.1"/>
<circle cx="36.27" cy="473.2" r="5.7" fill="#9db2d3" stroke="none"/>
<circle cx="36.27" cy="473.2" r="4.4" fill="#fff" stroke="none"/>
<path d="M34.07 471.6 q1.2 -0.8 2 0.2 M36.87 471.4 q1 0.2 1.4 1.4 M34.67 475.2 q1.4 0.6 2.6 -0.8" stroke="#7d8aa5" fill="none" stroke-width="0.6"/>
<line x1="22.07" y1="486.8" x2="155.26" y2="486.8" stroke="#222" stroke-width="1.2"/>
<text x="21.76" y="501.4" font-size="15" fill="#000">d1</text>
<text x="122.58" y="501.4" font-size="15" text-anchor="middle" fill="#000">4wks</text>
<g transform="translate(95 396.2) scale(0.08759)">
<path d="M392 282 C410 292 430 290 450 276 C470 268 492 276 500 248 C502 224 478 208 460 195 C446 180 444 150 428 140 C404 134 384 152 366 158 C340 166 318 148 290 148 C262 146 246 160 232 178" stroke="#c56b69" fill="none" stroke-width="3.6"/>
<path d="M115 300 C138 270 182 254 230 268 C268 276 300 244 340 245 C366 248 380 266 392 282 C360 274 322 292 290 310 C262 326 230 324 200 309 C170 294 140 296 115 300 Z" stroke="none" fill="#b23a38" stroke-width="1"/>
<circle cx="245" cy="293" r="12" fill="#8c1f22"/>
</g>
<text x="123.6" y="437.7" font-size="15" text-anchor="middle" font-style="italic" fill="#000">L. major</text>
<text x="123.6" y="453" font-size="15" text-anchor="middle" fill="#000">infection</text>
<line x1="120.53" y1="456.7" x2="120.53" y2="478.4" stroke="#222" stroke-width="1.2"/>
<path d="M120.53 485.7L115.63 477.4L125.43 477.4Z" stroke="none" fill="#222" stroke-width="1"/>
<text x="189.48" y="481.2" font-size="15" text-anchor="middle" font-style="italic" fill="#000">lesion</text>
<text x="189.48" y="496.5" font-size="15" text-anchor="middle" font-style="italic" fill="#000">size</text>
<line x1="225.23" y1="486.8" x2="252.91" y2="486.8" stroke="#222" stroke-width="1.2"/>
<line x1="252.29" y1="487.4" x2="252.29" y2="466" stroke="#222" stroke-width="1.2"/>
<path d="M252.29 458.7L247.39 467L257.19 467Z" stroke="none" fill="#222" stroke-width="1"/>
<text x="252.29" y="450.2" font-size="15" text-anchor="middle" fill="#000">Euthanize</text>
<text x="249.74" y="500.8" font-size="15" text-anchor="middle" fill="#000">4wpi</text>
<circle cx="12" cy="518.3" r="3.1" stroke="#111" fill="none" stroke-width="0.8"/>
<text x="19" y="522.9" font-size="14.25" fill="#000">Naïve</text>
<path d="M11.6 535.23L15.3 542.26L7.9 542.26Z" fill="#2e3d9e" stroke="#111" stroke-width="0.6" stroke-linejoin="miter"/>
<text x="19" y="543.7" font-size="14.25" fill="#000" xml:space="preserve">1<tspan font-family="'Liberation Serif','DejaVu Serif',serif" font-size="14.5">μ</tspan>g PEPCK mRNA + 1<tspan font-family="'Liberation Serif','DejaVu Serif',serif" font-size="14.5">μ</tspan>g  empty LNP</text>
<path d="M11.6 557.83L15.3 564.86L7.9 564.86Z" fill="#e8622a" stroke="#111" stroke-width="0.6" stroke-linejoin="miter"/>
<text x="19" y="566.3" font-size="14.25" fill="#000">1<tspan font-family="'Liberation Serif','DejaVu Serif',serif" font-size="14.5">μ</tspan>g PEPCK mRNA + 1<tspan font-family="'Liberation Serif','DejaVu Serif',serif" font-size="14.5">μ</tspan>g IL-12 mRNA</text>
<text x="343" y="399" font-size="16.5" font-weight="bold" fill="#000">G</text>
<text x="437" y="399.3" font-size="16.7" text-anchor="middle" fill="#000">DTH</text>
<line x1="394.5" y1="419.7" x2="394.5" y2="509" stroke="#333" stroke-width="0.8"/>
<line x1="391.6" y1="508.5" x2="394.5" y2="508.5" stroke="#222" stroke-width="0.95"/>
<text x="391.3" y="512.64" font-size="11.5" text-anchor="end" fill="#000">0.0</text>
<line x1="391.6" y1="490.85" x2="394.5" y2="490.85" stroke="#222" stroke-width="0.95"/>
<text x="391.3" y="494.99" font-size="11.5" text-anchor="end" fill="#000">0.2</text>
<line x1="391.6" y1="473.2" x2="394.5" y2="473.2" stroke="#222" stroke-width="0.95"/>
<text x="391.3" y="477.34" font-size="11.5" text-anchor="end" fill="#000">0.4</text>
<line x1="391.6" y1="455.55" x2="394.5" y2="455.55" stroke="#222" stroke-width="0.95"/>
<text x="391.3" y="459.69" font-size="11.5" text-anchor="end" fill="#000">0.6</text>
<line x1="391.6" y1="437.9" x2="394.5" y2="437.9" stroke="#222" stroke-width="0.95"/>
<text x="391.3" y="442.04" font-size="11.5" text-anchor="end" fill="#000">0.8</text>
<line x1="391.6" y1="420.25" x2="394.5" y2="420.25" stroke="#222" stroke-width="0.95"/>
<text x="391.3" y="424.39" font-size="11.5" text-anchor="end" fill="#000">1.0</text>
<line x1="394" y1="508.5" x2="486.9" y2="508.5" stroke="#333" stroke-width="0.9"/>
<line x1="416.2" y1="508.5" x2="416.2" y2="511.4" stroke="#444" stroke-width="0.8"/>
<text x="416.2" y="521.6" font-size="11.5" text-anchor="middle" fill="#000">48</text>
<line x1="464.5" y1="508.5" x2="464.5" y2="511.4" stroke="#444" stroke-width="0.8"/>
<text x="464.5" y="521.6" font-size="11.5" text-anchor="middle" fill="#000">72</text>
<text x="440.5" y="536.5" font-size="11.75" text-anchor="middle" fill="#000">Hours post infection</text>
<text x="351.7" y="458.6" font-size="11.3" text-anchor="middle" transform="rotate(-90 351.7 458.6)" fill="#000">Ear thickness</text>
<text x="366.5" y="458.6" font-size="11.3" text-anchor="middle" transform="rotate(-90 366.5 458.6)" fill="#000">(mm ± SD)</text>
<line x1="402.8" y1="428.3" x2="429.8" y2="428.3" stroke="#333" stroke-width="0.9"/>
<text x="416.3" y="428.9" font-size="15.5" text-anchor="middle" font-weight="bold" fill="#000">****</text>
<line x1="402.8" y1="442.5" x2="416.7" y2="442.5" stroke="#333" stroke-width="0.9"/>
<text x="409.75" y="443.2" font-size="15.5" text-anchor="middle" font-weight="bold" fill="#000">*</text>
<line x1="450.9" y1="428.3" x2="477.9" y2="428.3" stroke="#333" stroke-width="0.9"/>
<text x="464.4" y="428.9" font-size="15.5" text-anchor="middle" font-weight="bold" fill="#000">****</text>
<line x1="450.9" y1="442.5" x2="464.8" y2="442.5" stroke="#333" stroke-width="0.9"/>
<text x="457.85" y="443.2" font-size="15.5" text-anchor="middle" font-weight="bold" fill="#000">*</text>
<circle cx="403" cy="455.2" r="2.5" stroke="#111" fill="none" stroke-width="0.9"/>
<circle cx="404.9" cy="463.2" r="2.5" stroke="#111" fill="none" stroke-width="0.9"/>
<circle cx="401.6" cy="468.5" r="2.5" stroke="#111" fill="none" stroke-width="0.9"/>
<circle cx="404" cy="464.2" r="2.5" stroke="#111" fill="none" stroke-width="0.9"/>
<line x1="403.3" y1="458" x2="403.3" y2="468.5" stroke="#222" stroke-width="0.8"/>
<line x1="401.05" y1="458" x2="405.55" y2="458" stroke="#222" stroke-width="0.8"/>
<line x1="401.05" y1="468.5" x2="405.55" y2="468.5" stroke="#222" stroke-width="0.8"/>
<line x1="401.05" y1="463.3" x2="405.55" y2="463.3" stroke="#222" stroke-width="0.8"/>
<path d="M415.1 452.29L417.6 457.04L412.6 457.04Z" fill="#2e3d9e" stroke="#111" stroke-width="0.6" stroke-linejoin="miter"/>
<path d="M416.9 453.09L419.4 457.84L414.4 457.84Z" fill="#2e3d9e" stroke="#111" stroke-width="0.6" stroke-linejoin="miter"/>
<path d="M418.5 455.99L421 460.74L416 460.74Z" fill="#2e3d9e" stroke="#111" stroke-width="0.6" stroke-linejoin="miter"/>
<path d="M416.2 452.79L418.7 457.54L413.7 457.54Z" fill="#2e3d9e" stroke="#111" stroke-width="0.6" stroke-linejoin="miter"/>
<line x1="416.2" y1="454.5" x2="416.2" y2="458.5" stroke="#222" stroke-width="0.8"/>
<line x1="414.2" y1="454.5" x2="418.2" y2="454.5" stroke="#222" stroke-width="0.8"/>
<line x1="414.2" y1="458.5" x2="418.2" y2="458.5" stroke="#222" stroke-width="0.8"/>
<line x1="414.2" y1="456.5" x2="418.2" y2="456.5" stroke="#222" stroke-width="0.8"/>
<path d="M427.6 432.79L430.1 437.54L425.1 437.54Z" fill="#e8622a" stroke="#111" stroke-width="0.6" stroke-linejoin="miter"/>
<path d="M431.2 432.79L433.7 437.54L428.7 437.54Z" fill="#e8622a" stroke="#111" stroke-width="0.6" stroke-linejoin="miter"/>
<path d="M429.6 435.29L432.1 440.04L427.1 440.04Z" fill="#e8622a" stroke="#111" stroke-width="0.6" stroke-linejoin="miter"/>
<path d="M429.6 443.49L432.1 448.24L427.1 448.24Z" fill="#e8622a" stroke="#111" stroke-width="0.6" stroke-linejoin="miter"/>
<line x1="429.6" y1="434" x2="429.6" y2="443.2" stroke="#222" stroke-width="0.8"/>
<line x1="427.5" y1="434" x2="431.7" y2="434" stroke="#222" stroke-width="0.8"/>
<line x1="427.5" y1="443.2" x2="431.7" y2="443.2" stroke="#222" stroke-width="0.8"/>
<line x1="427.5" y1="438.7" x2="431.7" y2="438.7" stroke="#222" stroke-width="0.8"/>
<circle cx="451.5" cy="458.5" r="2.5" stroke="#111" fill="none" stroke-width="0.9"/>
<circle cx="449.3" cy="467.2" r="2.5" stroke="#111" fill="none" stroke-width="0.9"/>
<circle cx="453.4" cy="468.3" r="2.5" stroke="#111" fill="none" stroke-width="0.9"/>
<circle cx="449.3" cy="472.8" r="2.5" stroke="#111" fill="none" stroke-width="0.9"/>
<line x1="451.5" y1="461.5" x2="451.5" y2="472.5" stroke="#222" stroke-width="0.8"/>
<line x1="449.25" y1="461.5" x2="453.75" y2="461.5" stroke="#222" stroke-width="0.8"/>
<line x1="449.25" y1="472.5" x2="453.75" y2="472.5" stroke="#222" stroke-width="0.8"/>
<line x1="449.25" y1="467" x2="453.75" y2="467" stroke="#222" stroke-width="0.8"/>
<path d="M462.5 452.59L465 457.34L460 457.34Z" fill="#2e3d9e" stroke="#111" stroke-width="0.6" stroke-linejoin="miter"/>
<path d="M466.6 452.59L469.1 457.34L464.1 457.34Z" fill="#2e3d9e" stroke="#111" stroke-width="0.6" stroke-linejoin="miter"/>
<path d="M464.5 455.39L467 460.14L462 460.14Z" fill="#2e3d9e" stroke="#111" stroke-width="0.6" stroke-linejoin="miter"/>
<path d="M466.6 459.09L469.1 463.84L464.1 463.84Z" fill="#2e3d9e" stroke="#111" stroke-width="0.6" stroke-linejoin="miter"/>
<path d="M462.5 461.89L465 466.64L460 466.64Z" fill="#2e3d9e" stroke="#111" stroke-width="0.6" stroke-linejoin="miter"/>
<line x1="464.6" y1="455.5" x2="464.6" y2="463" stroke="#222" stroke-width="0.8"/>
<line x1="462.6" y1="455.5" x2="466.6" y2="455.5" stroke="#222" stroke-width="0.8"/>
<line x1="462.6" y1="463" x2="466.6" y2="463" stroke="#222" stroke-width="0.8"/>
<line x1="462.6" y1="459.3" x2="466.6" y2="459.3" stroke="#222" stroke-width="0.8"/>
<path d="M478.1 432.79L480.6 437.54L475.6 437.54Z" fill="#e8622a" stroke="#111" stroke-width="0.6" stroke-linejoin="miter"/>
<path d="M476.4 436.09L478.9 440.84L473.9 440.84Z" fill="#e8622a" stroke="#111" stroke-width="0.6" stroke-linejoin="miter"/>
<path d="M480.3 435.39L482.8 440.14L477.8 440.14Z" fill="#e8622a" stroke="#111" stroke-width="0.6" stroke-linejoin="miter"/>
<path d="M478.1 443.49L480.6 448.24L475.6 448.24Z" fill="#e8622a" stroke="#111" stroke-width="0.6" stroke-linejoin="miter"/>
<line x1="478.1" y1="435" x2="478.1" y2="443.2" stroke="#222" stroke-width="0.8"/>
<line x1="476" y1="435" x2="480.2" y2="435" stroke="#222" stroke-width="0.8"/>
<line x1="476" y1="443.2" x2="480.2" y2="443.2" stroke="#222" stroke-width="0.8"/>
<line x1="476" y1="439.6" x2="480.2" y2="439.6" stroke="#222" stroke-width="0.8"/>
<text x="506" y="399" font-size="16.5" font-weight="bold" fill="#000">H</text>
<text x="611" y="399.3" font-size="16.7" text-anchor="middle" fill="#000">Lesion size</text>
<line x1="556.5" y1="419.7" x2="556.5" y2="508" stroke="#666" stroke-width="0.8"/>
<line x1="553.6" y1="507.5" x2="556.5" y2="507.5" stroke="#222" stroke-width="0.95"/>
<text x="552.8" y="511.64" font-size="11.5" text-anchor="end" fill="#000">0.0</text>
<line x1="553.6" y1="478.43" x2="556.5" y2="478.43" stroke="#222" stroke-width="0.95"/>
<text x="552.8" y="482.57" font-size="11.5" text-anchor="end" fill="#000">0.5</text>
<line x1="553.6" y1="449.36" x2="556.5" y2="449.36" stroke="#222" stroke-width="0.95"/>
<text x="552.8" y="453.5" font-size="11.5" text-anchor="end" fill="#000">1.0</text>
<line x1="553.6" y1="420.29" x2="556.5" y2="420.29" stroke="#222" stroke-width="0.95"/>
<text x="552.8" y="424.43" font-size="11.5" text-anchor="end" fill="#000">1.5</text>
<line x1="556" y1="507.5" x2="649.7" y2="507.5" stroke="#333" stroke-width="0.9"/>
<line x1="556.5" y1="507.5" x2="556.5" y2="510.4" stroke="#444" stroke-width="0.8"/>
<text x="556.5" y="520.8" font-size="11.5" text-anchor="middle" fill="#000">0</text>
<line x1="579.8" y1="507.5" x2="579.8" y2="510.4" stroke="#444" stroke-width="0.8"/>
<text x="579.8" y="520.8" font-size="11.5" text-anchor="middle" fill="#000">1</text>
<line x1="603.1" y1="507.5" x2="603.1" y2="510.4" stroke="#444" stroke-width="0.8"/>
<text x="603.1" y="520.8" font-size="11.5" text-anchor="middle" fill="#000">2</text>
<line x1="626.4" y1="507.5" x2="626.4" y2="510.4" stroke="#444" stroke-width="0.8"/>
<text x="626.4" y="520.8" font-size="11.5" text-anchor="middle" fill="#000">3</text>
<line x1="649.7" y1="507.5" x2="649.7" y2="510.4" stroke="#444" stroke-width="0.8"/>
<text x="649.7" y="520.8" font-size="11.5" text-anchor="middle" fill="#000">4</text>
<text x="601.1" y="535.5" font-size="11.85" text-anchor="middle" fill="#000">Weeks post infection</text>
<text x="518" y="459.6" font-size="11.3" text-anchor="middle" transform="rotate(-90 518 459.6)" fill="#000">Ear thickness</text>
<text x="532.2" y="459.6" font-size="11.3" text-anchor="middle" transform="rotate(-90 532.2 459.6)" fill="#000">(mm ± SD)</text>
<line x1="556.5" y1="497.62" x2="556.5" y2="503.43" stroke="#333" stroke-width="0.7"/>
<line x1="554" y1="497.62" x2="559" y2="497.62" stroke="#333" stroke-width="0.7"/>
<line x1="554" y1="503.43" x2="559" y2="503.43" stroke="#333" stroke-width="0.7"/>
<line x1="579.8" y1="467.67" x2="579.8" y2="471.16" stroke="#333" stroke-width="0.7"/>
<line x1="577.3" y1="467.67" x2="582.3" y2="467.67" stroke="#333" stroke-width="0.7"/>
<line x1="577.3" y1="471.16" x2="582.3" y2="471.16" stroke="#333" stroke-width="0.7"/>
<line x1="603.1" y1="449.65" x2="603.1" y2="456.63" stroke="#333" stroke-width="0.7"/>
<line x1="600.6" y1="449.65" x2="605.6" y2="449.65" stroke="#333" stroke-width="0.7"/>
<line x1="600.6" y1="456.63" x2="605.6" y2="456.63" stroke="#333" stroke-width="0.7"/>
<line x1="626.4" y1="436.57" x2="626.4" y2="450.52" stroke="#333" stroke-width="0.7"/>
<line x1="623.9" y1="436.57" x2="628.9" y2="436.57" stroke="#333" stroke-width="0.7"/>
<line x1="623.9" y1="450.52" x2="628.9" y2="450.52" stroke="#333" stroke-width="0.7"/>
<line x1="649.7" y1="422.03" x2="649.7" y2="433.66" stroke="#333" stroke-width="0.7"/>
<line x1="647.2" y1="422.03" x2="652.2" y2="422.03" stroke="#333" stroke-width="0.7"/>
<line x1="647.2" y1="433.66" x2="652.2" y2="433.66" stroke="#333" stroke-width="0.7"/>
<line x1="556.5" y1="497.62" x2="556.5" y2="503.43" stroke="#333" stroke-width="0.7"/>
<line x1="554" y1="497.62" x2="559" y2="497.62" stroke="#333" stroke-width="0.7"/>
<line x1="554" y1="503.43" x2="559" y2="503.43" stroke="#333" stroke-width="0.7"/>
<line x1="579.8" y1="459.24" x2="579.8" y2="462.73" stroke="#333" stroke-width="0.7"/>
<line x1="577.3" y1="459.24" x2="582.3" y2="459.24" stroke="#333" stroke-width="0.7"/>
<line x1="577.3" y1="462.73" x2="582.3" y2="462.73" stroke="#333" stroke-width="0.7"/>
<line x1="603.1" y1="452.27" x2="603.1" y2="456.92" stroke="#333" stroke-width="0.7"/>
<line x1="600.6" y1="452.27" x2="605.6" y2="452.27" stroke="#333" stroke-width="0.7"/>
<line x1="600.6" y1="456.92" x2="605.6" y2="456.92" stroke="#333" stroke-width="0.7"/>
<line x1="626.4" y1="433.37" x2="626.4" y2="443.26" stroke="#333" stroke-width="0.7"/>
<line x1="623.9" y1="433.37" x2="628.9" y2="433.37" stroke="#333" stroke-width="0.7"/>
<line x1="623.9" y1="443.26" x2="628.9" y2="443.26" stroke="#333" stroke-width="0.7"/>
<line x1="649.7" y1="435.12" x2="649.7" y2="444.42" stroke="#333" stroke-width="0.7"/>
<line x1="647.2" y1="435.12" x2="652.2" y2="435.12" stroke="#333" stroke-width="0.7"/>
<line x1="647.2" y1="444.42" x2="652.2" y2="444.42" stroke="#333" stroke-width="0.7"/>
<line x1="556.5" y1="497.62" x2="556.5" y2="503.43" stroke="#333" stroke-width="0.7"/>
<line x1="554" y1="497.62" x2="559" y2="497.62" stroke="#333" stroke-width="0.7"/>
<line x1="554" y1="503.43" x2="559" y2="503.43" stroke="#333" stroke-width="0.7"/>
<line x1="579.8" y1="460.58" x2="579.8" y2="464.07" stroke="#333" stroke-width="0.7"/>
<line x1="577.3" y1="460.58" x2="582.3" y2="460.58" stroke="#333" stroke-width="0.7"/>
<line x1="577.3" y1="464.07" x2="582.3" y2="464.07" stroke="#333" stroke-width="0.7"/>
<line x1="603.1" y1="456.63" x2="603.1" y2="461.28" stroke="#333" stroke-width="0.7"/>
<line x1="600.6" y1="456.63" x2="605.6" y2="456.63" stroke="#333" stroke-width="0.7"/>
<line x1="600.6" y1="461.28" x2="605.6" y2="461.28" stroke="#333" stroke-width="0.7"/>
<line x1="626.4" y1="456.63" x2="626.4" y2="461.86" stroke="#333" stroke-width="0.7"/>
<line x1="623.9" y1="456.63" x2="628.9" y2="456.63" stroke="#333" stroke-width="0.7"/>
<line x1="623.9" y1="461.86" x2="628.9" y2="461.86" stroke="#333" stroke-width="0.7"/>
<line x1="649.7" y1="455.46" x2="649.7" y2="461.28" stroke="#333" stroke-width="0.7"/>
<line x1="647.2" y1="455.46" x2="652.2" y2="455.46" stroke="#333" stroke-width="0.7"/>
<line x1="647.2" y1="461.28" x2="652.2" y2="461.28" stroke="#333" stroke-width="0.7"/>
<polyline points="556.5,500.52 579.8,462.33 603.1,458.95 626.4,459.24 649.7,458.37" fill="none" stroke="#f0734a" stroke-width="0.9"/>
<polyline points="556.5,500.52 579.8,460.99 603.1,454.59 626.4,438.31 649.7,439.77" fill="none" stroke="#5563c4" stroke-width="0.9"/>
<polyline points="556.5,500.52 579.8,469.42 603.1,453.14 626.4,443.55 649.7,427.85" fill="none" stroke="#222" stroke-width="0.9"/>
<path d="M556.5 498.02L558.9 502.58L554.1 502.58Z" fill="#e8622a" stroke="#111" stroke-width="0.6" stroke-linejoin="miter"/>
<path d="M579.8 459.82L582.2 464.38L577.4 464.38Z" fill="#e8622a" stroke="#111" stroke-width="0.6" stroke-linejoin="miter"/>
<path d="M603.1 456.45L605.5 461.01L600.7 461.01Z" fill="#e8622a" stroke="#111" stroke-width="0.6" stroke-linejoin="miter"/>
<path d="M626.4 456.74L628.8 461.3L624 461.3Z" fill="#e8622a" stroke="#111" stroke-width="0.6" stroke-linejoin="miter"/>
<path d="M649.7 455.86L652.1 460.42L647.3 460.42Z" fill="#e8622a" stroke="#111" stroke-width="0.6" stroke-linejoin="miter"/>
<path d="M556.5 498.02L558.9 502.58L554.1 502.58Z" fill="#2e3d9e" stroke="#111" stroke-width="0.6" stroke-linejoin="miter"/>
<path d="M579.8 458.48L582.2 463.04L577.4 463.04Z" fill="#2e3d9e" stroke="#111" stroke-width="0.6" stroke-linejoin="miter"/>
<path d="M603.1 452.08L605.5 456.64L600.7 456.64Z" fill="#2e3d9e" stroke="#111" stroke-width="0.6" stroke-linejoin="miter"/>
<path d="M626.4 435.81L628.8 440.37L624 440.37Z" fill="#2e3d9e" stroke="#111" stroke-width="0.6" stroke-linejoin="miter"/>
<path d="M649.7 437.26L652.1 441.82L647.3 441.82Z" fill="#2e3d9e" stroke="#111" stroke-width="0.6" stroke-linejoin="miter"/>
<circle cx="556.5" cy="500.52" r="2.5" stroke="#111" fill="none" stroke-width="0.9"/>
<circle cx="579.8" cy="469.42" r="2.5" stroke="#111" fill="none" stroke-width="0.9"/>
<circle cx="603.1" cy="453.14" r="2.5" stroke="#111" fill="none" stroke-width="0.9"/>
<circle cx="626.4" cy="443.55" r="2.5" stroke="#111" fill="none" stroke-width="0.9"/>
<circle cx="649.7" cy="427.85" r="2.5" stroke="#111" fill="none" stroke-width="0.9"/>
<path d="M657.2 426.3L660.6 426.3L660.6 439.9L657.2 439.9" stroke="#555" fill="none" stroke-width="0.9"/>
<text x="665.3" y="440.2" font-size="15.5" text-anchor="middle" font-weight="bold" fill="#000">*</text>
<path d="M670.5 426.3L674.6 426.3L674.6 458.8L670.5 458.8" stroke="#555" fill="none" stroke-width="0.9"/>
<text x="672.6" y="439.9" font-size="15.5" text-anchor="middle" font-weight="bold" transform="rotate(90 672.6 439.9)" fill="#000">****</text>
<text x="2.6" y="600.2" font-size="16.5" font-weight="bold" fill="#000">I</text>
<text x="94.6" y="600.2" font-size="16.7" text-anchor="middle" fill="#000">Ear</text>
<line x1="40" y1="613.4" x2="40" y2="701" stroke="#888" stroke-width="1.1"/>
<line x1="37.1" y1="700.5" x2="40" y2="700.5" stroke="#222" stroke-width="0.95"/>
<text x="36.9" y="704.64" font-size="11.5" text-anchor="end" fill="#000">2</text>
<line x1="37.1" y1="683.17" x2="40" y2="683.17" stroke="#222" stroke-width="0.95"/>
<text x="36.9" y="687.31" font-size="11.5" text-anchor="end" fill="#000">3</text>
<line x1="37.1" y1="665.84" x2="40" y2="665.84" stroke="#222" stroke-width="0.95"/>
<text x="36.9" y="669.98" font-size="11.5" text-anchor="end" fill="#000">4</text>
<line x1="37.1" y1="648.51" x2="40" y2="648.51" stroke="#222" stroke-width="0.95"/>
<text x="36.9" y="652.65" font-size="11.5" text-anchor="end" fill="#000">5</text>
<line x1="37.1" y1="631.18" x2="40" y2="631.18" stroke="#222" stroke-width="0.95"/>
<text x="36.9" y="635.32" font-size="11.5" text-anchor="end" fill="#000">6</text>
<line x1="37.1" y1="613.85" x2="40" y2="613.85" stroke="#222" stroke-width="0.95"/>
<text x="36.9" y="617.99" font-size="11.5" text-anchor="end" fill="#000">7</text>
<line x1="39.5" y1="700.5" x2="153.2" y2="700.5" stroke="#444" stroke-width="0.9"/>
<line x1="53.9" y1="700.5" x2="53.9" y2="703.4" stroke="#444" stroke-width="0.8"/>
<text x="53.4" y="715.7" font-size="10.9" text-anchor="middle" fill="#000">Naïve</text>
<line x1="96.4" y1="700.5" x2="96.4" y2="703.4" stroke="#444" stroke-width="0.8"/>
<text x="95.9" y="715.7" font-size="10.9" text-anchor="middle" fill="#000">PEPCK</text>
<text x="95.9" y="728.9" font-size="10.9" text-anchor="middle" fill="#000">mRNA</text>
<line x1="138.7" y1="700.5" x2="138.7" y2="703.4" stroke="#444" stroke-width="0.8"/>
<text x="138.2" y="715.7" font-size="10.9" text-anchor="middle" fill="#000">+ IL-12</text>
<text x="138.2" y="728.9" font-size="10.9" text-anchor="middle" fill="#000">mRNA</text>
<text x="10.6" y="658" font-size="11.3" text-anchor="middle" transform="rotate(-90 10.6 658)" fill="#000">Parasites Number</text>
<text x="24.6" y="658" font-size="11.3" text-anchor="middle" transform="rotate(-90 24.6 658)" fill="#000">(log10)</text>
<line x1="53.9" y1="618.3" x2="138.7" y2="618.3" stroke="#333" stroke-width="0.9"/>
<text x="96.4" y="619.5" font-size="15.5" text-anchor="middle" font-weight="bold" fill="#000">**</text>
<line x1="52.15" y1="639.6" x2="57.65" y2="639.6" stroke="#333" stroke-width="0.9"/>
<line x1="54.9" y1="629.6" x2="54.9" y2="649.6" stroke="#333" stroke-width="0.9"/>
<line x1="50.9" y1="629.6" x2="58.9" y2="629.6" stroke="#333" stroke-width="0.9"/>
<line x1="50.9" y1="649.6" x2="58.9" y2="649.6" stroke="#333" stroke-width="0.9"/>
<circle cx="49.9" cy="631.18" r="2.4" stroke="#111" fill="none" stroke-width="0.9"/>
<circle cx="58.3" cy="631.18" r="2.4" stroke="#111" fill="none" stroke-width="0.9"/>
<circle cx="49.9" cy="648.51" r="2.4" stroke="#111" fill="none" stroke-width="0.9"/>
<circle cx="58.3" cy="648.51" r="2.4" stroke="#111" fill="none" stroke-width="0.9"/>
<line x1="91.9" y1="638" x2="100.9" y2="638" stroke="#888" stroke-width="0.9"/>
<line x1="96.4" y1="628.6" x2="96.4" y2="649.3" stroke="#333" stroke-width="0.9"/>
<line x1="90.9" y1="628.6" x2="101.9" y2="628.6" stroke="#333" stroke-width="0.9"/>
<line x1="90.9" y1="649.3" x2="101.9" y2="649.3" stroke="#333" stroke-width="0.9"/>
<path d="M86.7 628.67L89.1 633.23L84.3 633.23Z" fill="#2e3d9e" stroke="#111" stroke-width="0.6" stroke-linejoin="miter"/>
<path d="M96.4 628.67L98.8 633.23L94 633.23Z" fill="#2e3d9e" stroke="#111" stroke-width="0.6" stroke-linejoin="miter"/>
<path d="M106.1 628.67L108.5 633.23L103.7 633.23Z" fill="#2e3d9e" stroke="#111" stroke-width="0.6" stroke-linejoin="miter"/>
<path d="M91.4 646L93.8 650.56L89 650.56Z" fill="#2e3d9e" stroke="#111" stroke-width="0.6" stroke-linejoin="miter"/>
<path d="M101.2 646L103.6 650.56L98.8 650.56Z" fill="#2e3d9e" stroke="#111" stroke-width="0.6" stroke-linejoin="miter"/>
<line x1="134.2" y1="665.9" x2="143.2" y2="665.9" stroke="#888" stroke-width="0.9"/>
<line x1="138.7" y1="653.3" x2="138.7" y2="678" stroke="#333" stroke-width="0.9"/>
<line x1="132.7" y1="653.3" x2="144.7" y2="653.3" stroke="#333" stroke-width="0.9"/>
<line x1="132.7" y1="678" x2="144.7" y2="678" stroke="#333" stroke-width="0.9"/>
<path d="M138.7 646L141.1 650.56L136.3 650.56Z" fill="#e8622a" stroke="#111" stroke-width="0.6" stroke-linejoin="miter"/>
<path d="M129.3 663.33L131.7 667.89L126.9 667.89Z" fill="#e8622a" stroke="#111" stroke-width="0.6" stroke-linejoin="miter"/>
<path d="M138.7 663.33L141.1 667.89L136.3 667.89Z" fill="#e8622a" stroke="#111" stroke-width="0.6" stroke-linejoin="miter"/>
<path d="M148.5 663.33L150.9 667.89L146.1 667.89Z" fill="#e8622a" stroke="#111" stroke-width="0.6" stroke-linejoin="miter"/>
<path d="M138.7 680.66L141.1 685.22L136.3 685.22Z" fill="#e8622a" stroke="#111" stroke-width="0.6" stroke-linejoin="miter"/>
<text x="276.4" y="600.2" font-size="16.7" text-anchor="middle" fill="#000">dLN</text>
<line x1="220.5" y1="614" x2="220.5" y2="701" stroke="#3a3a3a" stroke-width="0.9"/>
<line x1="217.6" y1="700.5" x2="220.5" y2="700.5" stroke="#222" stroke-width="0.95"/>
<text x="218" y="704.64" font-size="11.5" text-anchor="end" fill="#000">1</text>
<line x1="217.6" y1="679" x2="220.5" y2="679" stroke="#222" stroke-width="0.95"/>
<text x="218" y="683.14" font-size="11.5" text-anchor="end" fill="#000">2</text>
<line x1="217.6" y1="657.5" x2="220.5" y2="657.5" stroke="#222" stroke-width="0.95"/>
<text x="218" y="661.64" font-size="11.5" text-anchor="end" fill="#000">3</text>
<line x1="217.6" y1="636" x2="220.5" y2="636" stroke="#222" stroke-width="0.95"/>
<text x="218" y="640.14" font-size="11.5" text-anchor="end" fill="#000">4</text>
<line x1="217.6" y1="614.5" x2="220.5" y2="614.5" stroke="#222" stroke-width="0.95"/>
<text x="218" y="618.64" font-size="11.5" text-anchor="end" fill="#000">5</text>
<line x1="220" y1="700.5" x2="333.4" y2="700.5" stroke="#444" stroke-width="0.9"/>
<line x1="235.2" y1="700.5" x2="235.2" y2="703.4" stroke="#444" stroke-width="0.8"/>
<text x="235.6" y="716.2" font-size="10.9" text-anchor="middle" fill="#000">Naïve</text>
<line x1="276.9" y1="700.5" x2="276.9" y2="703.4" stroke="#444" stroke-width="0.8"/>
<text x="277.3" y="716.2" font-size="10.9" text-anchor="middle" fill="#000">PEPCK</text>
<text x="277.3" y="729.4" font-size="10.9" text-anchor="middle" fill="#000">mRNA</text>
<line x1="318.5" y1="700.5" x2="318.5" y2="703.4" stroke="#444" stroke-width="0.8"/>
<text x="318.9" y="716.2" font-size="10.9" text-anchor="middle" fill="#000">+ IL-12</text>
<text x="318.9" y="729.4" font-size="10.9" text-anchor="middle" fill="#000">mRNA</text>
<text x="190.2" y="657" font-size="11.3" text-anchor="middle" transform="rotate(-90 190.2 657)" fill="#000">Parasites Number</text>
<text x="203.8" y="657" font-size="11.3" text-anchor="middle" transform="rotate(-90 203.8 657)" fill="#000">(log10)</text>
<line x1="235.2" y1="621.2" x2="318.5" y2="621.2" stroke="#333" stroke-width="0.9"/>
<text x="276.9" y="622.7" font-size="15.5" text-anchor="middle" font-weight="bold" fill="#000">**</text>
<line x1="223.15" y1="635.8" x2="247.65" y2="635.8" stroke="#333" stroke-width="0.9"/>
<line x1="235.4" y1="635.8" x2="235.4" y2="635.8" stroke="#333" stroke-width="0.9"/>
<line x1="235.4" y1="635.8" x2="235.4" y2="635.8" stroke="#333" stroke-width="0.9"/>
<line x1="235.4" y1="635.8" x2="235.4" y2="635.8" stroke="#333" stroke-width="0.9"/>
<circle cx="225.2" cy="636" r="2.4" stroke="#111" fill="none" stroke-width="0.9"/>
<circle cx="235.2" cy="636" r="2.4" stroke="#111" fill="none" stroke-width="0.9"/>
<circle cx="245.4" cy="636" r="2.4" stroke="#111" fill="none" stroke-width="0.9"/>
<line x1="264.4" y1="640.1" x2="289.4" y2="640.1" stroke="#999" stroke-width="0.9"/>
<line x1="276.9" y1="630.2" x2="276.9" y2="649.3" stroke="#333" stroke-width="0.9"/>
<line x1="270.9" y1="630.2" x2="282.9" y2="630.2" stroke="#333" stroke-width="0.9"/>
<line x1="270.9" y1="649.3" x2="282.9" y2="649.3" stroke="#333" stroke-width="0.9"/>
<path d="M267.2 633.49L269.6 638.05L264.8 638.05Z" fill="#2e3d9e" stroke="#111" stroke-width="0.6" stroke-linejoin="miter"/>
<path d="M273.8 633.49L276.2 638.05L271.4 638.05Z" fill="#2e3d9e" stroke="#111" stroke-width="0.6" stroke-linejoin="miter"/>
<path d="M280.4 633.49L282.8 638.05L278 638.05Z" fill="#2e3d9e" stroke="#111" stroke-width="0.6" stroke-linejoin="miter"/>
<path d="M286.9 633.49L289.3 638.05L284.5 638.05Z" fill="#2e3d9e" stroke="#111" stroke-width="0.6" stroke-linejoin="miter"/>
<path d="M276.9 654.99L279.3 659.55L274.5 659.55Z" fill="#2e3d9e" stroke="#111" stroke-width="0.6" stroke-linejoin="miter"/>
<line x1="306.5" y1="665.6" x2="330.5" y2="665.6" stroke="#999" stroke-width="0.9"/>
<line x1="318.5" y1="653.8" x2="318.5" y2="677.4" stroke="#333" stroke-width="0.9"/>
<line x1="312.5" y1="653.8" x2="324.5" y2="653.8" stroke="#333" stroke-width="0.9"/>
<line x1="312.5" y1="677.4" x2="324.5" y2="677.4" stroke="#333" stroke-width="0.9"/>
<path d="M308.5 654.99L310.9 659.55L306.1 659.55Z" fill="#e8622a" stroke="#111" stroke-width="0.6" stroke-linejoin="miter"/>
<path d="M318.5 654.99L320.9 659.55L316.1 659.55Z" fill="#e8622a" stroke="#111" stroke-width="0.6" stroke-linejoin="miter"/>
<path d="M328.4 654.99L330.8 659.55L326 659.55Z" fill="#e8622a" stroke="#111" stroke-width="0.6" stroke-linejoin="miter"/>
<path d="M313.7 676.49L316.1 681.05L311.3 681.05Z" fill="#e8622a" stroke="#111" stroke-width="0.6" stroke-linejoin="miter"/>
<path d="M323.7 676.49L326.1 681.05L321.3 681.05Z" fill="#e8622a" stroke="#111" stroke-width="0.6" stroke-linejoin="miter"/>
</svg>
</body>
</html>
